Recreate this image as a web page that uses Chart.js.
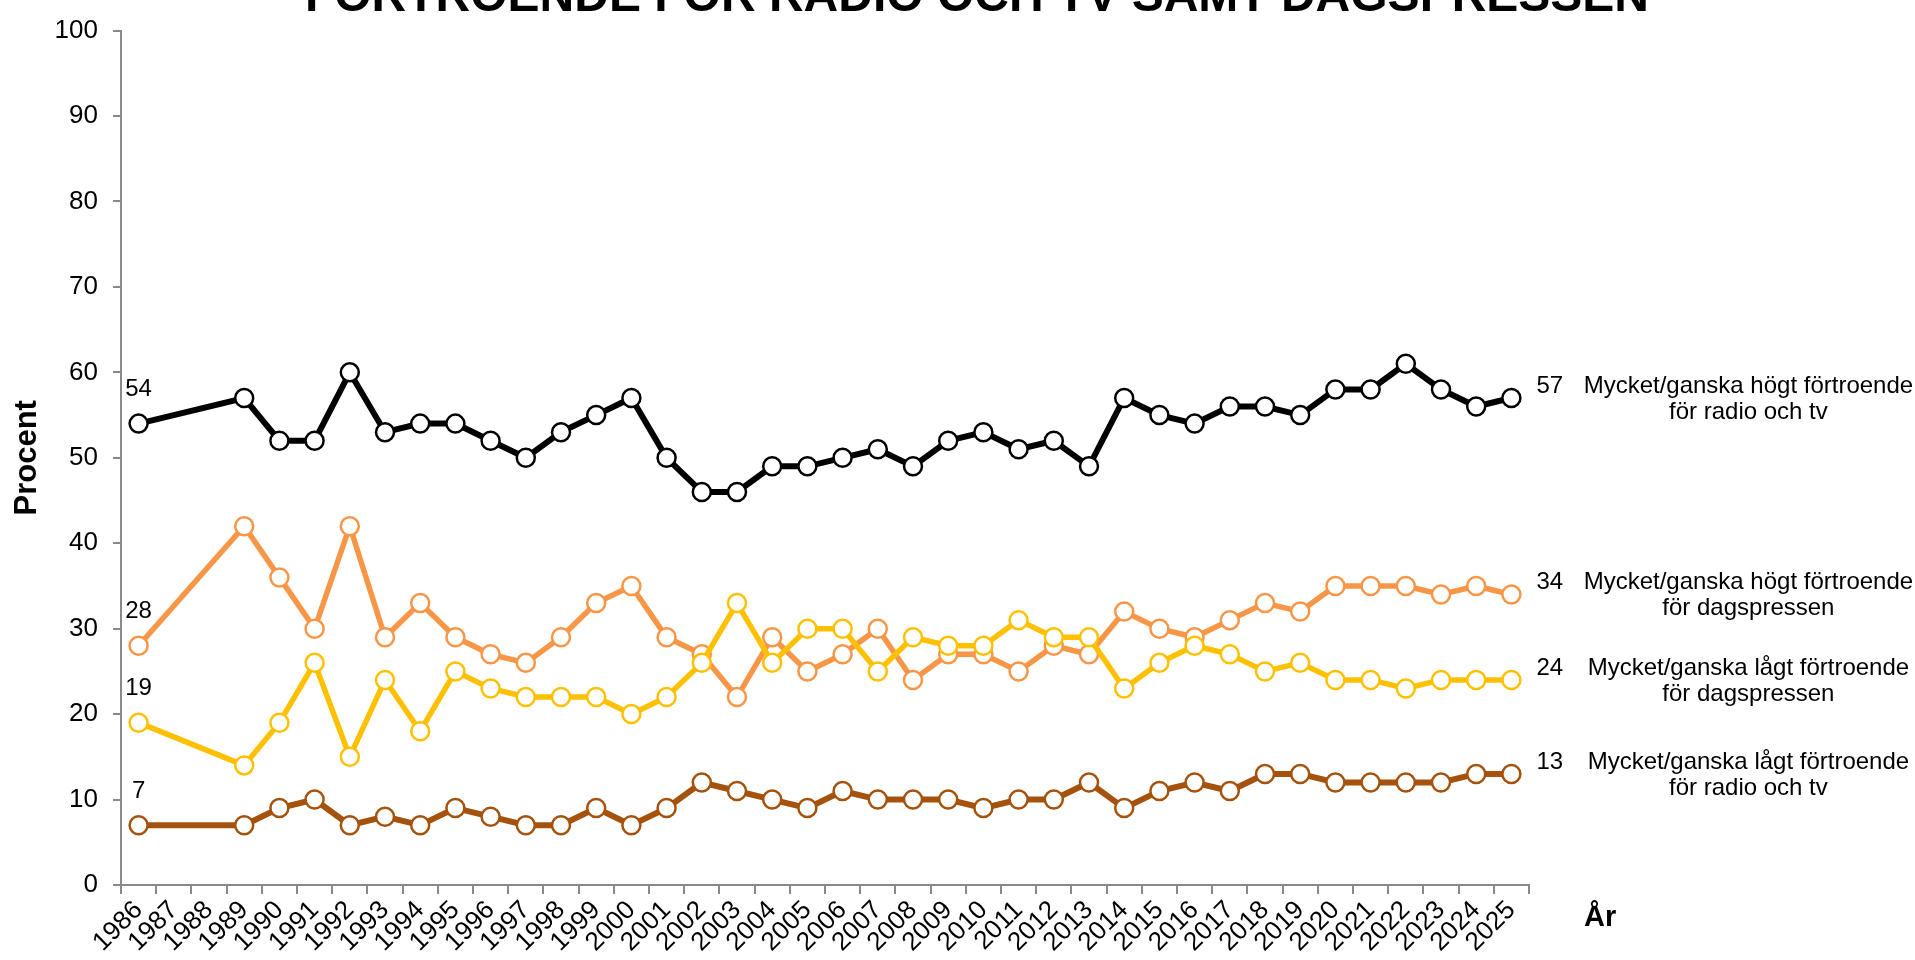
<!DOCTYPE html>
<html>
<head>
<meta charset="utf-8">
<script src="https://cdn.jsdelivr.net/npm/chart.js@4"></script>
<style>
  html, body { margin: 0; padding: 0; background: #fff; }
  #wrap { width: 1915px; height: 960px; }
</style>
</head>
<body>
<div id="wrap"><canvas id="chart" width="1915" height="960"></canvas></div>
<script>
// år på x-axeln (1987 och 1988 saknar mätning)
const years = ['1986', '1987', '1988', '1989', '1990', '1991', '1992', '1993', '1994', '1995',
  '1996', '1997', '1998', '1999', '2000', '2001', '2002', '2003', '2004', '2005',
  '2006', '2007', '2008', '2009', '2010', '2011', '2012', '2013', '2014', '2015',
  '2016', '2017', '2018', '2019', '2020', '2021', '2022', '2023', '2024', '2025'];

const hogtRadioTv = [54, null, null, 57, 52, 52, 60, 53, 54, 54, 52, 50, 53,
  55, 57, 50, 46, 46, 49, 49, 50, 51, 49,
  52, 53, 51, 52, 49, 57, 55, 54, 56, 56,
  55, 58, 58, 61, 58, 56, 57];
const hogtPress = [28, null, null, 42, 36, 30, 42, 29, 33, 29, 27, 26, 29,
  33, 35, 29, 27, 22, 29, 25, 27, 30, 24,
  27, 27, 25, 28, 27, 32, 30, 29, 31, 33,
  32, 35, 35, 35, 34, 35, 34];
const lagtPress = [19, null, null, 14, 19, 26, 15, 24, 18, 25, 23, 22, 22,
  22, 20, 22, 26, 33, 26, 30, 30, 25, 29,
  28, 28, 31, 29, 29, 23, 26, 28, 27, 25,
  26, 24, 24, 23, 24, 24, 24];
const lagtRadioTv = [7, null, null, 7, 9, 10, 7, 8, 7, 9, 8, 7, 7,
  9, 7, 9, 12, 11, 10, 9, 11, 10, 10,
  10, 9, 10, 10, 12, 9, 11, 12, 11, 13,
  13, 12, 12, 12, 12, 13, 13];

const seriesNames = [
  ['Mycket/ganska högt förtroende', 'för radio och tv'],
  ['Mycket/ganska högt förtroende', 'för dagspressen'],
  ['Mycket/ganska lågt förtroende', 'för dagspressen'],
  ['Mycket/ganska lågt förtroende', 'för radio och tv']
];
const seriesColors = ['#000000', '#F79646', '#FFC000', '#A5520C'];

const yTicks = [0, 10, 20, 30, 40, 50, 60, 70, 80, 90, 100];
const chartTitle = 'FÖRTROENDE FÖR RADIO OCH TV SAMT DAGSPRESSEN';

const FONT = '"Liberation Sans", Arial, sans-serif';
const axisGray = '#898989';

function makeSet(i, values, order, width) {
  return {
    label: seriesNames[i].join(' '),
    data: values,
    borderColor: seriesColors[i],
    backgroundColor: seriesColors[i],
    borderWidth: width,
    pointRadius: 9,
    pointHoverRadius: 9,
    pointBorderWidth: 2.5,
    pointBackgroundColor: '#ffffff',
    pointBorderColor: seriesColors[i],
    spanGaps: true,
    tension: 0,
    order: order
  };
}

// rubrik, axeltitel "År" och etiketter vid första/sista punkten
const labelsPlugin = {
  id: 'labels',
  afterDraw(chart) {
    const ctx = chart.ctx;
    ctx.save();
    ctx.fillStyle = '#000';

    ctx.font = 'bold 48px ' + FONT;
    ctx.textAlign = 'center';
    ctx.textBaseline = 'alphabetic';
    ctx.fillText(chartTitle, 977, 11);

    ctx.font = 'bold 29px ' + FONT;
    ctx.textAlign = 'left';
    ctx.textBaseline = 'middle';
    ctx.fillText('År', 1584, 918);

    ctx.font = '24px ' + FONT;
    chart.data.datasets.forEach((ds, i) => {
      const meta = chart.getDatasetMeta(i);
      const first = meta.data[0];
      const last = meta.data[meta.data.length - 1];
      const idx = seriesColors.indexOf(ds.borderColor);
      ctx.textAlign = 'center';
      ctx.textBaseline = 'middle';
      ctx.fillText(String(ds.data[0]), first.x, first.y - 34);

      ctx.textAlign = 'left';
      ctx.fillText(String(ds.data[ds.data.length - 1]), last.x + 25, last.y - 12);
      ctx.textAlign = 'center';
      ctx.fillText(seriesNames[idx][0], last.x + 237, last.y - 12);
      ctx.fillText(seriesNames[idx][1], last.x + 237, last.y + 14);
    });
    ctx.restore();
  }
};

new Chart(document.getElementById('chart'), {
  type: 'line',
  data: {
    labels: years,
    datasets: [
      makeSet(0, hogtRadioTv, 0, 6),
      makeSet(3, lagtRadioTv, 1, 6),
      makeSet(2, lagtPress, 2, 5.5),
      makeSet(1, hogtPress, 3, 5.5)
    ]
  },
  options: {
    responsive: false,
    animation: false,
    devicePixelRatio: 1,
    layout: { padding: { left: 0, top: 24, right: 386, bottom: 0 } },
    plugins: {
      legend: { display: false },
      title: { display: false },
      tooltip: { enabled: false }
    },
    scales: {
      x: {
        type: 'category',
        offset: true,
        grid: { offset: true, drawOnChartArea: false, drawTicks: true, tickLength: 9, color: axisGray, lineWidth: 2 },
        border: { color: axisGray, width: 2 },
        ticks: {
          autoSkip: false,
          maxRotation: 45,
          minRotation: 45,
          padding: 1,
          color: '#000',
          font: { family: FONT, size: 26 }
        },
        afterFit(scale) { scale.height = 75; }
      },
      y: {
        min: 0,
        max: 100,
        afterBuildTicks(scale) { scale.ticks = yTicks.map(v => ({ value: v })); },
        grid: { drawOnChartArea: false, drawTicks: true, tickLength: 8, color: axisGray, lineWidth: 2 },
        border: { color: axisGray, width: 2 },
        ticks: {
          padding: 15,
          color: '#000',
          font: { family: FONT, size: 26 }
        },
        title: {
          display: true,
          text: 'Procent',
          color: '#000',
          padding: { top: 9, bottom: 0 },
          font: { family: FONT, size: 31, weight: 'bold' }
        },
        afterFit(scale) { scale.width = 121; }
      }
    }
  },
  plugins: [labelsPlugin]
});
</script>
</body>
</html>
